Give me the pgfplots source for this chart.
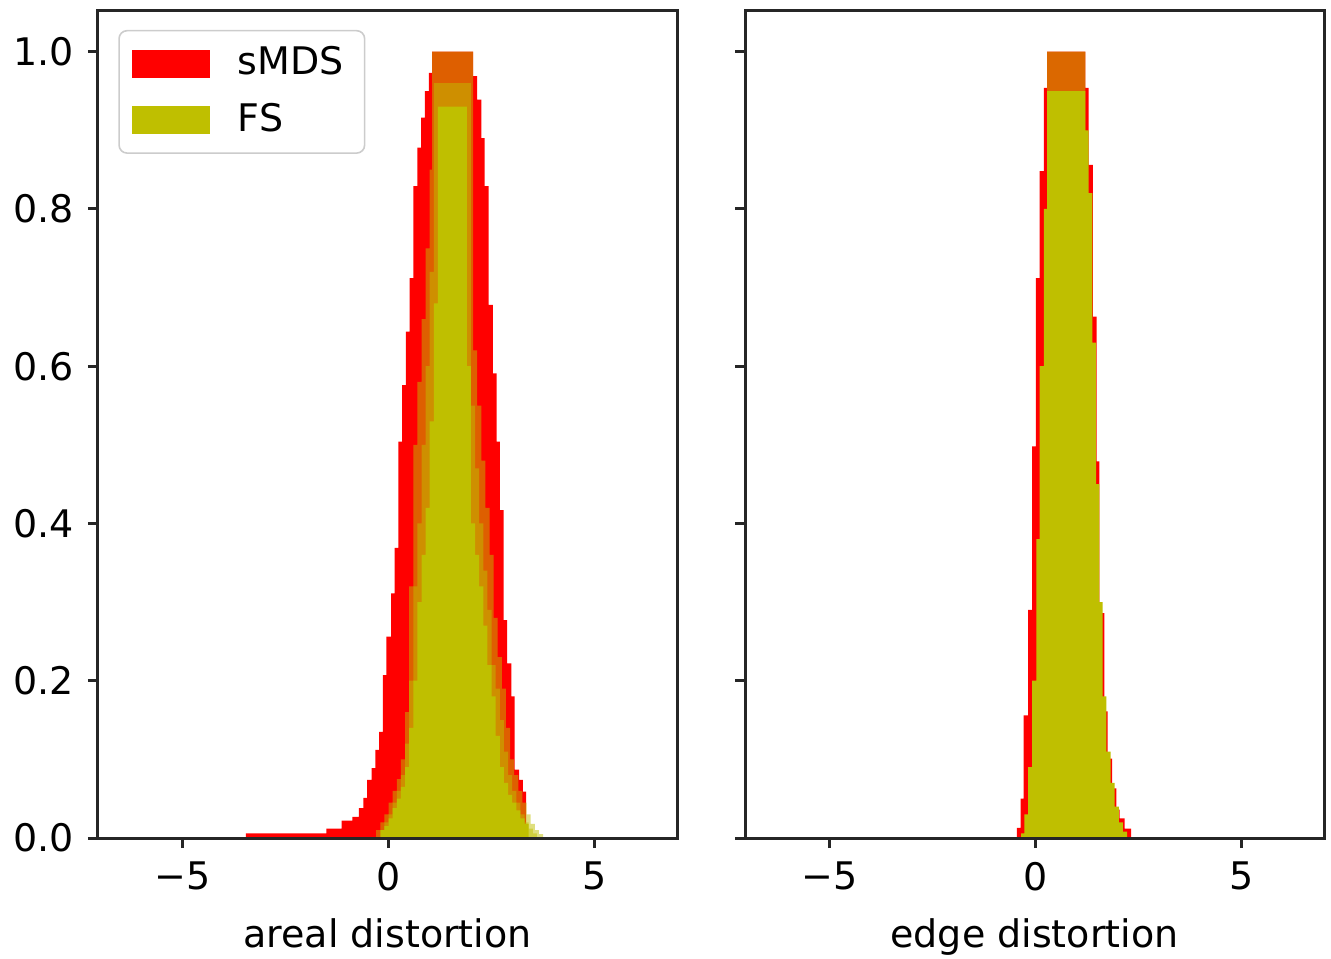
\documentclass[border=0pt]{standalone}
\usepackage{fontspec}
\setmainfont{DejaVu Sans}
\usepackage{pgfplots}
\pgfplotsset{compat=1.18}

\definecolor{smds}{RGB}{255,0,0}
\definecolor{fs}{RGB}{191,191,0}

\pgfplotsset{
  histax/.style={
    scale only axis,
    width=144.75pt, height=207pt,
    xmin=-7.05, xmax=7.0, ymin=0, ymax=1.053,
    xtick={-5,0,5}, xticklabels={−5,0,5},
    ytick={0,0.2,0.4,0.6,0.8,1.0},
    xtick pos=lower, ytick pos=left,
    tick align=outside, major tick length=2.5pt,
    tick style={black!85, line width=0.75pt},
    axis line style={line width=0.75pt, black!85},
    ticklabel style={font=\fontsize{9.5}{11}\selectfont},
    label style={font=\fontsize{9.5}{11}\selectfont},
    axis on top,
  },
}

\begin{document}
\begin{tikzpicture}
% ---- left: areal distortion
\begin{axis}[histax,
    yticklabels={0.0,0.2,0.4,0.6,0.8,1.0},
    xlabel={areal distortion},
    legend style={at={(0.035,0.976)}, anchor=north west,
      draw=black!20, rounded corners=2pt, fill=white,
      font=\fontsize{9.5}{11}\selectfont, row sep=1.5pt, column sep=5pt,
      inner xsep=3.2pt, inner ysep=2pt},
    legend cell align=left,
    legend image code/.code={\fill[#1, sharp corners] (0pt,-3.5pt) rectangle (19.5pt,3.5pt);},
]
\addlegendimage{fill=smds, draw=none}
\addlegendentry{sMDS}
\addlegendimage{fill=fs, draw=none}
\addlegendentry{FS}

% sMDS envelope
\addplot[const plot, fill=smds, draw=none, forget plot] coordinates {
(-3.46,0.006) (-1.51,0.012) (-1.14,0.022) (-0.88,0.027) (-0.72,0.038)
(-0.61,0.051) (-0.52,0.074) (-0.41,0.089) (-0.32,0.112) (-0.23,0.135)
(-0.14,0.207) (-0.05,0.256) (0.06,0.311) (0.15,0.369) (0.24,0.504)
(0.33,0.576) (0.42,0.644) (0.51,0.712) (0.60,0.829) (0.70,0.878)
(0.79,0.916) (0.88,0.950) (0.98,0.973) (1.06,1.000) (2.05,0.969)
(2.15,0.939) (2.25,0.890) (2.33,0.829) (2.43,0.678) (2.53,0.591)
(2.62,0.504) (2.70,0.417) (2.79,0.277) (2.88,0.222) (2.98,0.180)
(3.06,0.087) (3.17,0.074) (3.26,0.059) (3.34,0)
} \closedcycle;

% FS outer (translucent)
\addplot[const plot, fill=fs, fill opacity=0.5, draw=none, forget plot] coordinates {
(-0.30,0.010) (-0.20,0.020) (-0.10,0.030) (0.00,0.045) (0.10,0.060)
(0.20,0.075) (0.30,0.100) (0.40,0.160) (0.50,0.320) (0.60,0.500)
(0.70,0.580) (0.80,0.660) (0.90,0.750) (1.00,0.850) (1.06,1.000)
(2.05,0.620) (2.15,0.550) (2.25,0.480) (2.35,0.420) (2.45,0.360)
(2.55,0.280) (2.65,0.230) (2.75,0.190) (2.85,0.140) (2.95,0.100)
(3.05,0.080) (3.15,0.060) (3.25,0.045) (3.35,0.030) (3.45,0.018)
(3.55,0.010) (3.65,0.005) (3.75,0)
} \closedcycle;

% FS middle (translucent)
\addplot[const plot, fill=fs, fill opacity=0.5, draw=none, forget plot] coordinates {
(-0.10,0.020) (0.00,0.030) (0.10,0.045) (0.20,0.060) (0.30,0.080)
(0.40,0.120) (0.50,0.200) (0.60,0.320) (0.70,0.400) (0.80,0.500)
(0.90,0.600) (1.00,0.720) (1.10,0.960) (2.00,0.550) (2.10,0.470)
(2.20,0.400) (2.30,0.340) (2.40,0.290) (2.50,0.220) (2.60,0.190)
(2.70,0.150) (2.80,0.110) (2.90,0.080) (3.00,0.060) (3.10,0.045)
(3.20,0.030) (3.30,0.020) (3.40,0.012) (3.50,0.006) (3.60,0)
} \closedcycle;

% FS core
\addplot[const plot, fill=fs, draw=none, forget plot] coordinates {
(-0.20,0.010) (-0.10,0.015) (0.00,0.025) (0.10,0.038) (0.20,0.050)
(0.30,0.065) (0.40,0.090) (0.50,0.140) (0.60,0.200) (0.70,0.300)
(0.80,0.360) (0.90,0.420) (1.00,0.530) (1.10,0.680) (1.20,0.930)
(1.90,0.600) (2.00,0.400) (2.10,0.360) (2.20,0.320) (2.30,0.270)
(2.40,0.220) (2.50,0.180) (2.60,0.130) (2.70,0.090) (2.80,0.070)
(2.90,0.055) (3.00,0.045) (3.10,0.035) (3.20,0.025) (3.30,0.018)
(3.40,0)
} \closedcycle;
\end{axis}

% ---- right: edge distortion
\begin{axis}[histax, at={(161.75pt,0pt)},
    yticklabels={},
    xlabel={edge distortion},
]
% sMDS envelope
\addplot[const plot, fill=smds, draw=none] coordinates {
(-0.45,0.013) (-0.36,0.050) (-0.29,0.156) (-0.18,0.290) (-0.08,0.498)
(0.01,0.712) (0.10,0.848) (0.20,0.954) (0.28,1.000) (1.21,0.954)
(1.29,0.856) (1.39,0.663) (1.48,0.479) (1.55,0.286) (1.67,0.161)
(1.75,0.101) (1.86,0.063) (1.96,0.036) (2.04,0.025) (2.16,0.012)
(2.32,0)
} \closedcycle;

% FS top (translucent)
\addplot[const plot, fill=fs, fill opacity=0.55, draw=none] coordinates {
(0.28,1.000) (1.21,0)
} \closedcycle;

% FS core
\addplot[const plot, fill=fs, draw=none] coordinates {
(-0.35,0.006) (-0.27,0.030) (-0.18,0.090) (-0.08,0.200) (0.02,0.380)
(0.10,0.600) (0.20,0.800) (0.28,0.950) (1.21,0.900) (1.29,0.820)
(1.38,0.630) (1.47,0.450) (1.55,0.300) (1.63,0.180) (1.72,0.110)
(1.82,0.070) (1.92,0.040) (2.02,0.020) (2.12,0.008) (2.22,0)
} \closedcycle;
\end{axis}

\pgfresetboundingbox
\path[use as bounding box] (-24.5pt,-30pt) rectangle (308.25pt,209.5pt);
\end{tikzpicture}
\end{document}
